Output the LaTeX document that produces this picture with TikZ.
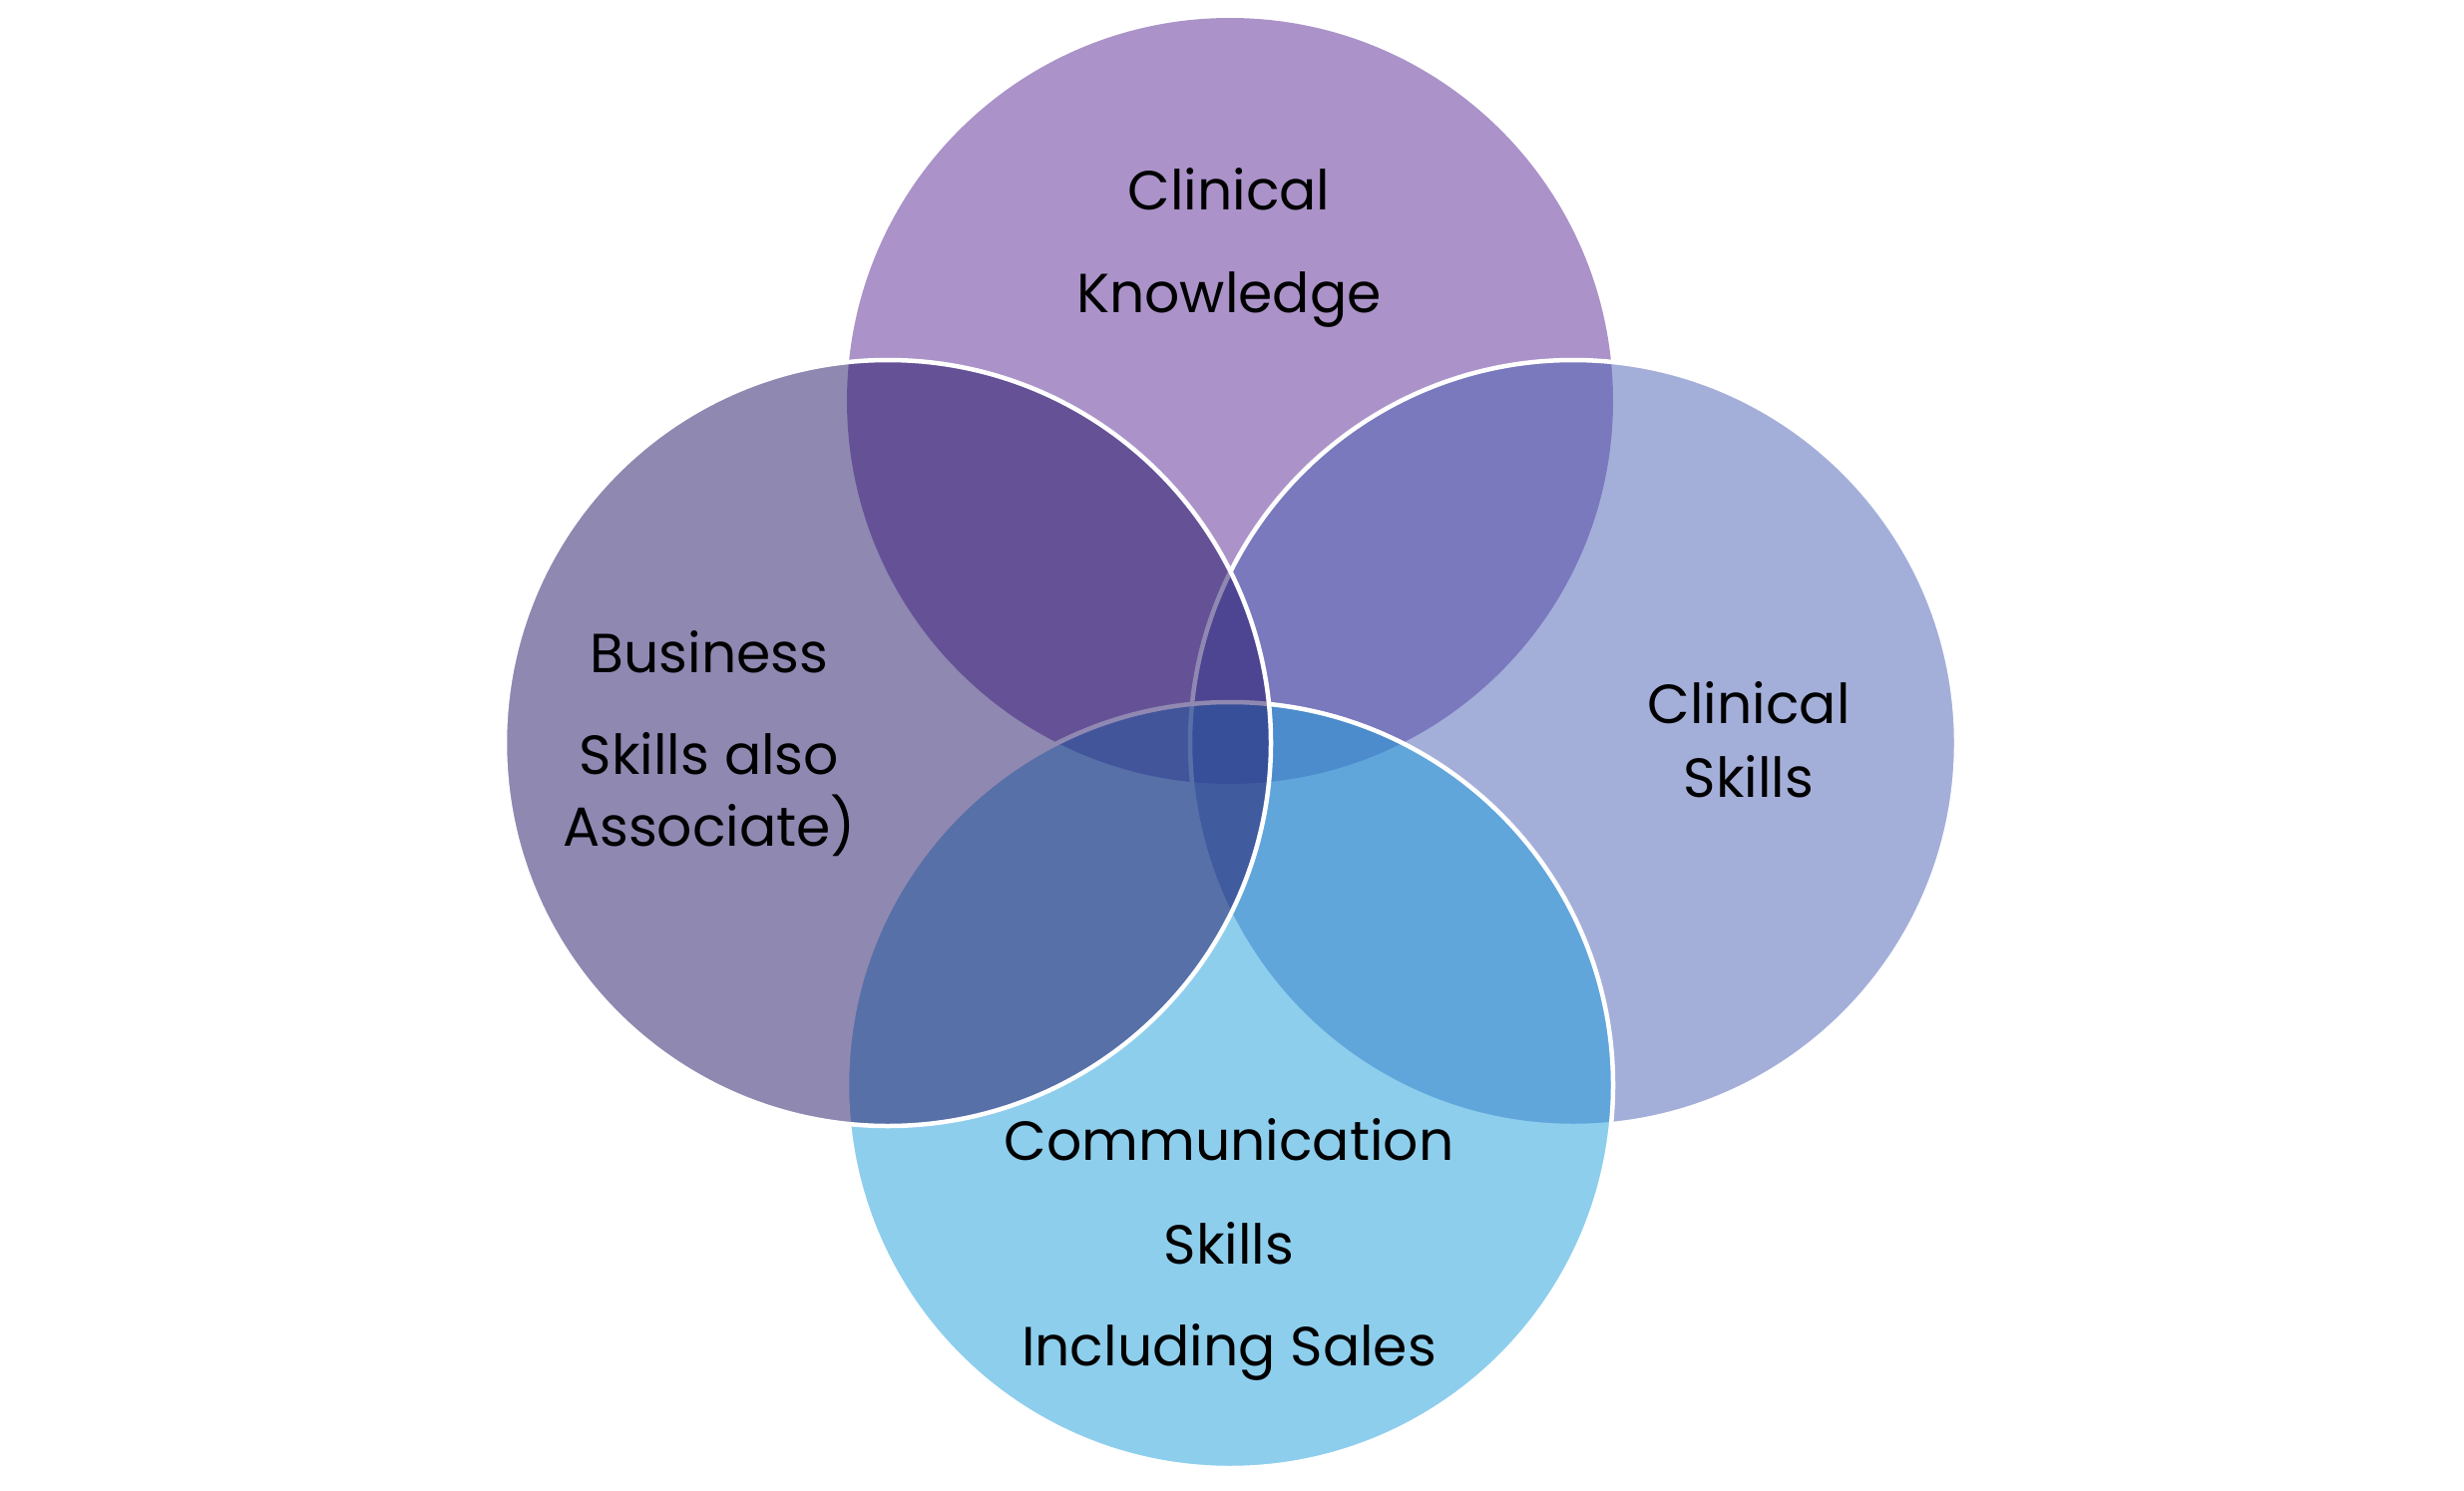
\documentclass[tikz,border=0pt]{standalone}
\usepackage{fontspec}
\setmainfont{Poppins}
\definecolor{ctop}{RGB}{89,41,149}
\definecolor{cright}{RGB}{75,97,181}
\definecolor{cbottom}{RGB}{31,159,221}
\definecolor{cleft}{RGB}{33,19,101}
\begin{document}
\begin{tikzpicture}[x=0.01cm,y=-0.01cm,
  venn/.style={fill opacity=0.5, draw=white, line width=4.5*0.2845pt},
  lbl/.style={anchor=base, inner sep=0pt, font=\fontsize{15.7}{19}\selectfont, text=black}]
\useasboundingbox (0,0) rectangle (2470,1494);
\fill[white] (0,0) rectangle (2470,1494);
% circles in drawing order: top, right, bottom, left
\fill[ctop, fill opacity=0.5] (1233,402) circle[radius=384];
\path[venn, fill=cright] (1577,745) circle[radius=384];
\path[venn, fill=cbottom] (1233,1088) circle[radius=384];
\path[venn, fill=cleft] (890,745) circle[radius=384];
% labels
\node[lbl] (t1) at (1232,210) {Clinical};
\node[lbl] (t2) at (1232,313) {Knowledge};
\node[lbl] (l1) at (711,674) {Business};
\node[lbl] (l2) at (711,776) {Skills also};
\node[lbl] (l3) at (711,848) {Associate)};
\node[lbl] (r1) at (1753,725) {Clinical};
\node[lbl] (r2) at (1753,799) {Skills};
\node[lbl] (b1) at (1232,1163) {Communication};
\node[lbl] (b2) at (1232,1267) {Skills};
\node[lbl] (b3) at (1232,1369) {Including Sales};
\end{tikzpicture}
\end{document}
